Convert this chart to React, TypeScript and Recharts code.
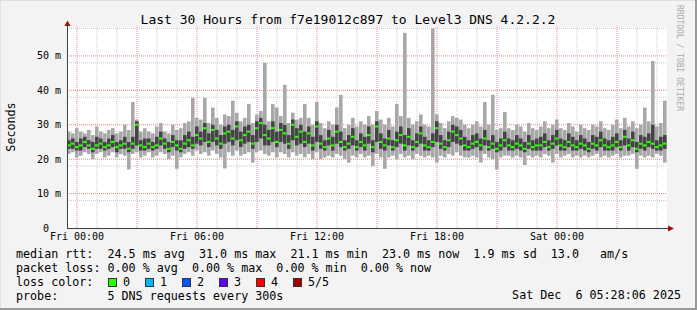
import React from "react"
import { ComposedChart, Bar, XAxis, YAxis, CartesianGrid } from "recharts"

// x axis: hours since Fri 00:00, one sample every 12 minutes
const hourTicks = [0, 6, 12, 18, 24]
const hourLabels = ["Fri 00:00", "Fri 06:00", "Fri 12:00", "Fri 18:00", "Sat 00:00"]
const msTicks = [0, 10, 20, 30, 40, 50]

// median rtt in ms
const medianRtt = [
  24.0, 24.5, 23.5, 24.0, 25.0, 24.0, 23.0, 24.0, 24.5, 23.5,
  24.0, 25.0, 23.5, 24.0, 24.5, 23.0, 24.5, 30.0, 24.0, 23.5,
  24.5, 23.5, 24.0, 26.0, 24.5, 23.0, 25.0, 24.0, 23.0, 24.5,
  25.5, 24.0, 27.0, 26.0, 29.0, 25.0, 28.5, 26.0, 24.5, 27.5,
  28.0, 26.0, 29.5, 25.5, 27.0, 28.0, 24.5, 29.0, 30.5, 27.0,
  26.0, 29.0, 25.0, 28.5, 27.5, 24.5, 30.0, 26.5, 28.0, 25.0,
  27.5, 24.0, 29.5, 24.5, 23.5, 26.0, 24.0, 28.0, 25.0, 23.5,
  24.5, 26.5, 23.5, 25.0, 24.0, 27.0, 23.5, 29.5, 25.0, 24.0,
  26.0, 23.5, 25.5, 27.0, 24.0, 26.5, 23.5, 25.0, 27.5, 24.0,
  23.5, 25.0, 29.0, 24.5, 23.5, 25.5, 28.0, 27.0, 26.0, 24.0,
  23.5, 24.5, 25.0, 24.0, 26.0, 23.5, 24.5, 23.0, 24.0, 25.5,
  24.0, 23.5, 24.5, 24.0, 23.0, 24.5, 23.5, 24.0, 24.0, 25.0,
  23.5, 24.5, 26.0, 24.0, 23.5, 25.0, 24.0, 23.5, 24.5, 24.0,
  23.0, 24.5, 24.0, 25.5, 24.0, 23.5, 24.0, 25.0, 23.5, 26.5,
  24.0, 25.5, 23.0, 24.5, 24.0, 25.0, 24.5, 23.5, 24.0, 24.5,
]

// outer smoke (min / max ping)
const smokeLow = [
  21.5, 22.0, 20.5, 21.0, 22.0, 21.5, 20.0, 21.5, 22.0, 20.5,
  21.0, 22.0, 20.5, 21.5, 21.0, 17.0, 21.5, 22.0, 20.5, 21.0,
  22.0, 20.5, 21.0, 22.0, 21.5, 20.0, 21.0, 17.2, 20.5, 21.5,
  22.0, 21.0, 22.5, 21.5, 22.0, 21.0, 22.5, 21.5, 20.5, 17.3,
  22.0, 21.0, 22.5, 21.0, 21.5, 22.0, 19.0, 22.0, 22.5, 21.5,
  21.0, 22.0, 20.5, 22.0, 21.5, 20.5, 22.0, 21.0, 21.5, 20.5,
  21.5, 20.0, 22.0, 20.0, 20.5, 21.0, 20.5, 21.5, 21.0, 20.0,
  19.0, 21.0, 20.5, 21.5, 20.5, 21.0, 18.0, 21.5, 20.5, 17.2,
  20.5, 21.0, 20.0, 21.5, 20.5, 21.0, 20.0, 21.5, 21.0, 20.5,
  21.0, 20.5, 19.0, 21.0, 20.5, 21.5, 21.0, 22.0, 21.0, 20.5,
  20.5, 21.0, 20.5, 19.0, 21.5, 20.5, 20.0, 17.0, 20.5, 21.0,
  21.0, 20.5, 21.0, 20.5, 18.3, 21.0, 20.5, 21.0, 20.5, 21.5,
  21.0, 19.0, 21.5, 20.5, 21.0, 21.5, 20.5, 21.0, 20.5, 21.0,
  20.5, 21.0, 21.5, 20.5, 21.0, 20.5, 21.0, 21.5, 20.5, 21.0,
  21.0, 21.5, 17.2, 21.0, 20.5, 21.0, 20.5, 21.5, 21.0, 19.0,
]
const smokeHigh = [
  28.0, 27.5, 29.0, 28.0, 27.5, 28.5, 27.0, 29.5, 28.0, 27.5,
  28.5, 29.0, 27.5, 28.0, 30.0, 28.5, 36.6, 31.5, 28.0, 29.0,
  28.0, 27.5, 29.5, 30.5, 28.0, 27.5, 30.0, 28.5, 29.0, 30.5,
  31.0, 37.8, 32.0, 31.5, 37.8, 30.5, 35.0, 32.0, 30.0, 33.0,
  32.5, 37.0, 33.5, 31.0, 32.0, 36.0, 30.5, 33.0, 34.0, 48.0,
  31.0, 36.0, 35.0, 32.5, 41.6, 30.5, 33.5, 31.5, 32.0, 36.0,
  32.0, 30.0, 36.6, 30.5, 29.0, 31.0, 30.0, 35.0, 38.7, 29.0,
  30.0, 32.0, 29.5, 31.0, 30.0, 32.5, 30.0, 34.0, 31.5, 30.0,
  32.0, 29.5, 36.0, 32.5, 56.7, 32.0, 30.0, 31.0, 33.0, 30.0,
  29.5, 58.0, 33.0, 30.5, 29.0, 31.0, 32.5, 32.0, 31.5, 30.0,
  29.0, 30.0, 31.0, 29.5, 36.6, 30.0, 38.7, 28.5, 29.0, 33.7,
  29.0, 28.5, 30.0, 29.5, 28.0, 30.5, 29.0, 28.5, 29.5, 31.0,
  29.0, 30.0, 31.5, 29.0, 28.5, 30.5, 29.5, 28.0, 30.0, 29.0,
  28.5, 30.0, 29.5, 31.0, 29.0, 28.5, 30.0, 31.5, 29.0, 32.0,
  29.5, 31.0, 29.0, 30.0, 35.0, 31.0, 48.5, 29.5, 30.5, 37.0,
]

// inner (darker) smoke
const coreLow = [
  23.0, 23.0, 22.5, 22.5, 23.5, 23.0, 22.0, 23.0, 23.0, 22.5,
  23.0, 23.5, 22.0, 23.0, 23.0, 22.0, 23.0, 24.0, 22.5, 22.5,
  23.0, 22.5, 23.0, 24.0, 23.0, 22.0, 23.5, 22.5, 22.0, 23.0,
  23.5, 23.0, 24.5, 24.0, 25.0, 23.5, 25.0, 24.0, 23.0, 24.5,
  25.0, 24.0, 25.5, 23.5, 24.5, 25.0, 23.0, 25.0, 26.0, 24.0,
  24.0, 25.0, 23.5, 25.0, 24.5, 23.0, 25.5, 24.0, 24.5, 23.5,
  24.5, 22.5, 25.0, 23.0, 22.5, 24.0, 22.5, 24.5, 23.5, 22.5,
  23.0, 24.0, 22.5, 23.5, 22.5, 24.5, 22.0, 25.0, 23.0, 22.5,
  24.0, 22.5, 23.5, 24.5, 22.5, 24.0, 22.5, 23.5, 24.5, 22.5,
  22.5, 23.5, 25.0, 23.0, 22.5, 23.5, 25.0, 24.5, 24.0, 22.5,
  22.5, 23.0, 23.5, 22.5, 24.0, 22.5, 23.0, 22.0, 22.5, 23.5,
  22.5, 22.5, 23.0, 22.5, 22.0, 23.0, 22.5, 22.5, 22.5, 23.5,
  22.5, 23.0, 24.0, 22.5, 22.5, 23.5, 22.5, 22.5, 23.0, 22.5,
  22.0, 23.0, 22.5, 23.5, 22.5, 22.5, 22.5, 23.5, 22.5, 24.0,
  22.5, 23.5, 22.0, 23.0, 22.5, 23.5, 23.0, 22.5, 22.5, 23.0,
]
const coreHigh = [
  25.5, 26.0, 25.0, 26.0, 26.5, 25.5, 25.0, 26.5, 26.0, 25.0,
  26.0, 27.0, 25.0, 25.5, 26.5, 25.0, 26.5, 31.0, 25.5, 26.0,
  26.0, 25.0, 26.5, 28.0, 26.0, 25.0, 27.0, 25.5, 25.5, 27.0,
  28.0, 26.5, 29.5, 28.0, 30.5, 27.5, 30.0, 28.5, 27.0, 29.5,
  30.0, 28.5, 31.0, 28.0, 29.5, 30.0, 27.0, 31.0, 32.0, 30.0,
  28.5, 31.0, 28.0, 30.5, 30.0, 27.0, 31.5, 29.0, 30.0, 28.0,
  29.5, 26.5, 31.0, 27.0, 25.5, 28.5, 26.5, 30.0, 28.0, 25.5,
  27.0, 29.0, 25.5, 27.5, 26.5, 29.5, 25.5, 31.0, 27.5, 26.0,
  28.5, 25.5, 28.0, 29.5, 27.0, 29.0, 25.5, 27.5, 29.5, 26.5,
  25.5, 27.5, 31.0, 27.0, 25.5, 28.0, 30.0, 29.5, 28.5, 26.5,
  25.5, 27.0, 27.5, 26.0, 28.5, 25.5, 27.0, 25.0, 26.0, 28.0,
  26.0, 25.5, 27.0, 26.0, 25.0, 27.0, 25.5, 26.0, 26.5, 27.5,
  25.5, 27.0, 28.5, 26.0, 25.5, 27.5, 26.5, 25.5, 27.0, 26.0,
  25.0, 27.0, 26.5, 28.0, 26.0, 25.5, 26.5, 27.5, 25.5, 28.5,
  26.0, 28.0, 25.0, 27.0, 26.5, 27.5, 30.0, 25.5, 26.5, 27.0,
]

const lossLabels = ["0", "1", "2", "3", "4", "5/5"]
const lossColors = ["#26ff00", "#00b8ff", "#0059ff", "#5e00ff", "#ff0000", "#a00000"]

const legendRows = [
  "median rtt:  24.5 ms avg  31.0 ms max  21.1 ms min  23.0 ms now  1.9 ms sd  13.0   am/s",
  "packet loss: 0.00 % avg  0.00 % max  0.00 % min  0.00 % now",
  "loss color:",
  "probe:       5 DNS requests every 300s",
]

const data = medianRtt.map((m, i) => ({
  t: -0.4 + i * 0.2,
  smoke: [smokeLow[i], smokeHigh[i]],
  core: [coreLow[i], coreHigh[i]],
  median: [m - 0.3, m + 0.3],
}))

const mono = "'DejaVu Sans Mono', monospace"
const timeDomain = [-0.5, 29.5]

// rrdtool pads the unit column, so a bare "0" sits where the digits of "10 m" sit
function MsTick(props: any) {
  const { x, y, payload } = props
  const v = payload.value
  return (
    <text
      x={v === 0 ? x - 12 : x}
      y={y}
      dy="0.355em"
      textAnchor="end"
      fontSize={10}
      fontFamily={mono}
      fill="#000"
    >
      {v === 0 ? "0" : `${v} m`}
    </text>
  )
}

export default function App() {
  return (
    <div style={{ position: "absolute", left: 0, top: 0, width: 697, height: 310, background: "#f3f3f3" }}>
      <ComposedChart
        width={697}
        height={310}
        data={data}
        margin={{ top: 27, right: 30, left: 0, bottom: 62 }}
        barCategoryGap={0}
      >
        <CartesianGrid
          fill="#ffffff"
          stroke="#c8c8c8"
          strokeDasharray="1 1"
          horizontalValues={[2, 4, 6, 8, 12, 14, 16, 18, 22, 24, 26, 28, 32, 34, 36, 38, 42, 44, 46, 48, 52, 54, 56, 58]}
          verticalValues={[1, 2, 4, 5, 7, 8, 10, 11, 13, 14, 16, 17, 19, 20, 22, 23, 25, 26, 28, 29]}
        />
        <CartesianGrid
          stroke="#f08080"
          strokeDasharray="1 1"
          horizontalValues={[10, 20, 30, 40, 50]}
          verticalValues={[0, 3, 6, 9, 12, 15, 18, 21, 24, 27]}
        />
        <XAxis
          type="number"
          dataKey="t"
          domain={timeDomain}
          ticks={hourTicks}
          tickFormatter={(v) => hourLabels[hourTicks.indexOf(v)]}
          height={20}
          axisLine={false}
          tickLine={false}
          tickSize={5}
          tickMargin={0}
          tick={{ fontSize: 10, fontFamily: mono, fill: "#000" }}
          allowDataOverflow
        />
        <XAxis xAxisId="core" type="number" dataKey="t" domain={timeDomain} hide allowDataOverflow />
        <XAxis xAxisId="med" type="number" dataKey="t" domain={timeDomain} hide allowDataOverflow />
        <YAxis
          type="number"
          domain={[0, 58.4]}
          ticks={msTicks}
          width={67}
          axisLine={false}
          tickLine={false}
          tickSize={2}
          tickMargin={4}
          tick={<MsTick />}
          allowDataOverflow
        />
        <Bar dataKey="smoke" fill="#a8a8a8" barSize={4} isAnimationActive={false} />
        <Bar xAxisId="core" dataKey="core" fill="#444444" barSize={4} isAnimationActive={false} />
        <Bar xAxisId="med" dataKey="median" fill="#26ff00" barSize={4} isAnimationActive={false} />
      </ComposedChart>
      <svg
        width={697}
        height={310}
        style={{ position: "absolute", left: 0, top: 0, pointerEvents: "none" }}
        fontFamily={mono}
      >
        {/* frame */}
        <line x1={0} y1={0.5} x2={697} y2={0.5} stroke="#e0e0e0" />
        <line x1={0.5} y1={0} x2={0.5} y2={310} stroke="#e0e0e0" />
        <line x1={696} y1={0} x2={696} y2={310} stroke="#9a9a9a" strokeWidth={2} />
        <line x1={0} y1={309} x2={697} y2={309} stroke="#9a9a9a" strokeWidth={2} />
        {/* axes with arrows */}
        <line x1={67.5} y1={228} x2={67.5} y2={24} stroke="#404040" />
        <line x1={67} y1={228.5} x2={670} y2={228.5} stroke="#404040" />
        <polygon points="64.5,26 70.5,26 67.5,20.5" fill="#a01010" />
        <polygon points="668,225.5 668,231.5 674,228.5" fill="#a01010" />
        <text x={348} y={23.5} textAnchor="middle" fontSize={13} fill="#000">
          Last 30 Hours from f7e19012c897 to Level3 DNS 4.2.2.2
        </text>
        <text x={14.5} y={127} transform="rotate(-90 14.5 127)" textAnchor="middle" fontSize={11.7} fill="#000">
          Seconds
        </text>
        <text x={677} y={5} transform="rotate(90 677 5)" fontSize={8} fill="#aaaaaa">
          RRDTOOL / TOBI OETIKER
        </text>
        {legendRows.map((row, i) => (
          <text key={i} x={16} y={257.5 + i * 14} fontSize={11.7} fill="#000" style={{ whiteSpace: "pre" }}>
            {row}
          </text>
        ))}
        {lossLabels.map((lab, i) => (
          <g key={lab}>
            <rect x={108.5 + i * 37} y={278.5} width={8} height={8} fill={lossColors[i]} stroke="#333" />
            <text x={123 + i * 37} y={285.5} fontSize={11.7} fill="#000">
              {lab}
            </text>
          </g>
        ))}
        <text x={681} y={299} textAnchor="end" fontSize={11.7} fill="#000" style={{ whiteSpace: "pre" }}>
          Sat Dec  6 05:28:06 2025
        </text>
      </svg>
    </div>
  )
}
